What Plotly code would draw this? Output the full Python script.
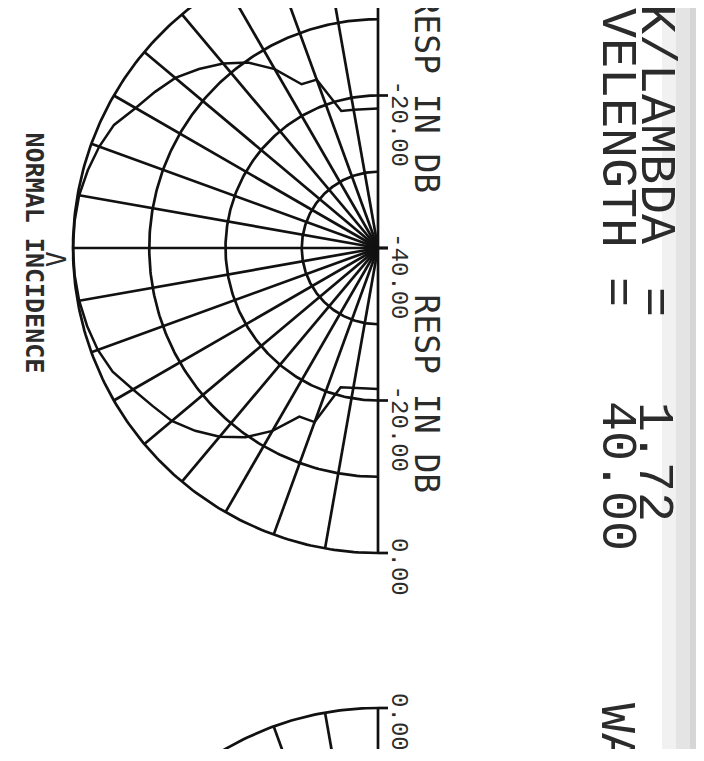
import numpy as np
import plotly.graph_objects as go

# ---------------- data ----------------
# angle from normal incidence (deg), positive = upper half of the rotated plot
theta_deg = [-90, -85, -80, -75, -70, -65, -60, -55, -50, -45, -40, -35, -30, -25,
             -20, -15, -10, -5, 0, 5, 10, 15, 20, 25, 30, 35, 40, 45, 50, 55, 60,
             65, 70, 75, 80, 85, 90]
resp_db = [-21.5, -21.5, -21.4, -21.1, -15.7, -15.6, -12.3, -9.7, -7.7, -6.1, -4.7,
           -3.9, -2.9, -1.6, -0.9, -0.5, -0.2, -0.05, 0.0, -0.05, -0.2, -0.6, -1.1,
           -1.8, -3.3, -4.3, -5.3, -6.8, -8.4, -10.3, -12.9, -16.3, -16.5, -21.4,
           -21.6, -21.7, -21.7]

db_min, db_max = -40.0, 0.0
ring_db = [-30, -20, -10, 0]
spoke_deg = list(range(-80, 81, 10))
tick_db = [0, -20, -40]
tick_text = ["0.00", "-20.00", "-40.00"]
axis_title = "RESP IN DB"
kl_label, kl_value = "K/LAMBDA", "1.72"
wl_label, wl_value = "WAVELENGTH", "40.00"
eq_sign = "="
incidence_label = "NORMAL INCIDENCE"

# ---------------- layout constants (pixels of the 704x761 reference page) ----------------
PAGE_W, PAGE_H = 704, 761
OFF = 8                                  # default body margin of the html page
W, H = PAGE_W - OFF, PAGE_H - 2 * OFF - 4
CX, CY = 378, 248          # centre of the polar plot (page pixels)
R_PX = 305                 # radius of the 0 dB circle
PX = R_PX / (db_max - db_min)   # pixels per dB
NEXT_DY = 765              # vertical offset of the next plot on the sheet
INK = "#111111"
TXT = "#2b2b2b"
MONO = "DejaVu Sans Mono"
LMONO = "Liberation Mono"

R = db_max - db_min


def polar_xy(theta, r, cy=0.0):
    t = np.radians(np.asarray(theta, dtype=float))
    r = np.asarray(r, dtype=float)
    return -r * np.cos(t), cy + r * np.sin(t)


def grid_xy(cy):
    xs, ys = [], []
    for db in ring_db:
        t = np.linspace(-90, 90, 241)
        x, y = polar_xy(t, np.full_like(t, db - db_min), cy)
        xs += list(x) + [None]
        ys += list(y) + [None]
    for s in spoke_deg:
        x, y = polar_xy([s, s], [0, R], cy)
        xs += list(x) + [None]
        ys += list(y) + [None]
    xs += [0, 0, None]
    ys += [cy - R, cy + R, None]
    tick_len = 10 / PX
    for db in tick_db:
        for sgn in (1, -1):
            yy = cy + sgn * (db - db_min)
            xs += [0, tick_len, None]
            ys += [yy, yy, None]
    return xs, ys


fig = go.Figure()

for cy in (0.0, -NEXT_DY / PX):
    gx, gy = grid_xy(cy)
    fig.add_trace(go.Scatter(x=gx, y=gy, mode="lines",
                             line=dict(color=INK, width=2.7),
                             hoverinfo="skip", showlegend=False))

dx, dy = polar_xy(theta_deg, np.array(resp_db) - db_min)
fig.add_trace(go.Scatter(x=dx, y=dy, mode="lines",
                         line=dict(color=INK, width=2.5),
                         hoverinfo="skip", showlegend=False))


def pp(xp, yp):
    """page pixel -> paper coordinate of the (offset) figure"""
    return (xp - OFF) / W, 1 - (yp - OFF) / H


annotations = []


def add_text(text, xc, ytop, size, family=MONO, bold=False, angle=90, color=TXT):
    x, y = pp(xc, ytop)
    annotations.append(dict(
        text=f"<b>{text}</b>" if bold else text, x=x, y=y, xref="paper", yref="paper",
        xanchor="center", yanchor="top", textangle=angle, showarrow=False,
        font=dict(family=family, size=size, color=color)))


# header lines
BIG = 50
add_text(kl_label, 655, 2, BIG, LMONO)
add_text(eq_sign, 654, 285, BIG, LMONO)
add_text(kl_value, 654, 400, BIG, LMONO)
add_text(wl_label, 617, -54, BIG, LMONO)
add_text(eq_sign, 616, 275, BIG, LMONO)
add_text(wl_value, 617, 399, BIG, LMONO)
add_text(wl_label, 616, 701, BIG, LMONO)          # next plot on the sheet

# radial axis labels (along the diameter)
TICK_SIZE = 24
adv = 0.6 * TICK_SIZE
for base in (CY, CY + NEXT_DY):
    for db, lab in zip(tick_db, tick_text):
        for sgn in ((1, -1) if db != db_min else (1,)):
            tick_px = base - sgn * (db - db_min) * PX
            add_text(lab, 398.5, tick_px - adv - 3, TICK_SIZE, LMONO)

add_text(axis_title, 426, -8, 33)
add_text(axis_title, 426, 292, 33)
add_text(axis_title, 426, 745, 33)        # next plot on the sheet

add_text(incidence_label, 34, 130, 25, bold=True)
add_text("V", 57, 249, 26, angle=-90)

# scanner stipple along the right edge
shapes = []
for x0, x1, c in [(662, 676, "#f1f1f1"), (676, 690, "#e4e4e4"), (690, 704, "#d6d6d6")]:
    a, _ = pp(x0, 0)
    b, _ = pp(x1, 0)
    shapes.append(dict(type="rect", xref="paper", yref="paper", x0=a, x1=b,
                       y0=0, y1=1, fillcolor=c, line=dict(width=0), layer="below"))

fig.update_layout(
    width=W, height=H, margin=dict(l=0, r=0, t=0, b=0),
    paper_bgcolor="white", plot_bgcolor="rgba(0,0,0,0)",
    xaxis=dict(range=[(OFF - CX) / PX, (PAGE_W - CX) / PX], visible=False, fixedrange=True),
    yaxis=dict(range=[(CY - (OFF + H)) / PX, (CY - OFF) / PX], visible=False, fixedrange=True),
    annotations=annotations, shapes=shapes, showlegend=False,
)

fig.write_html("out.html")
